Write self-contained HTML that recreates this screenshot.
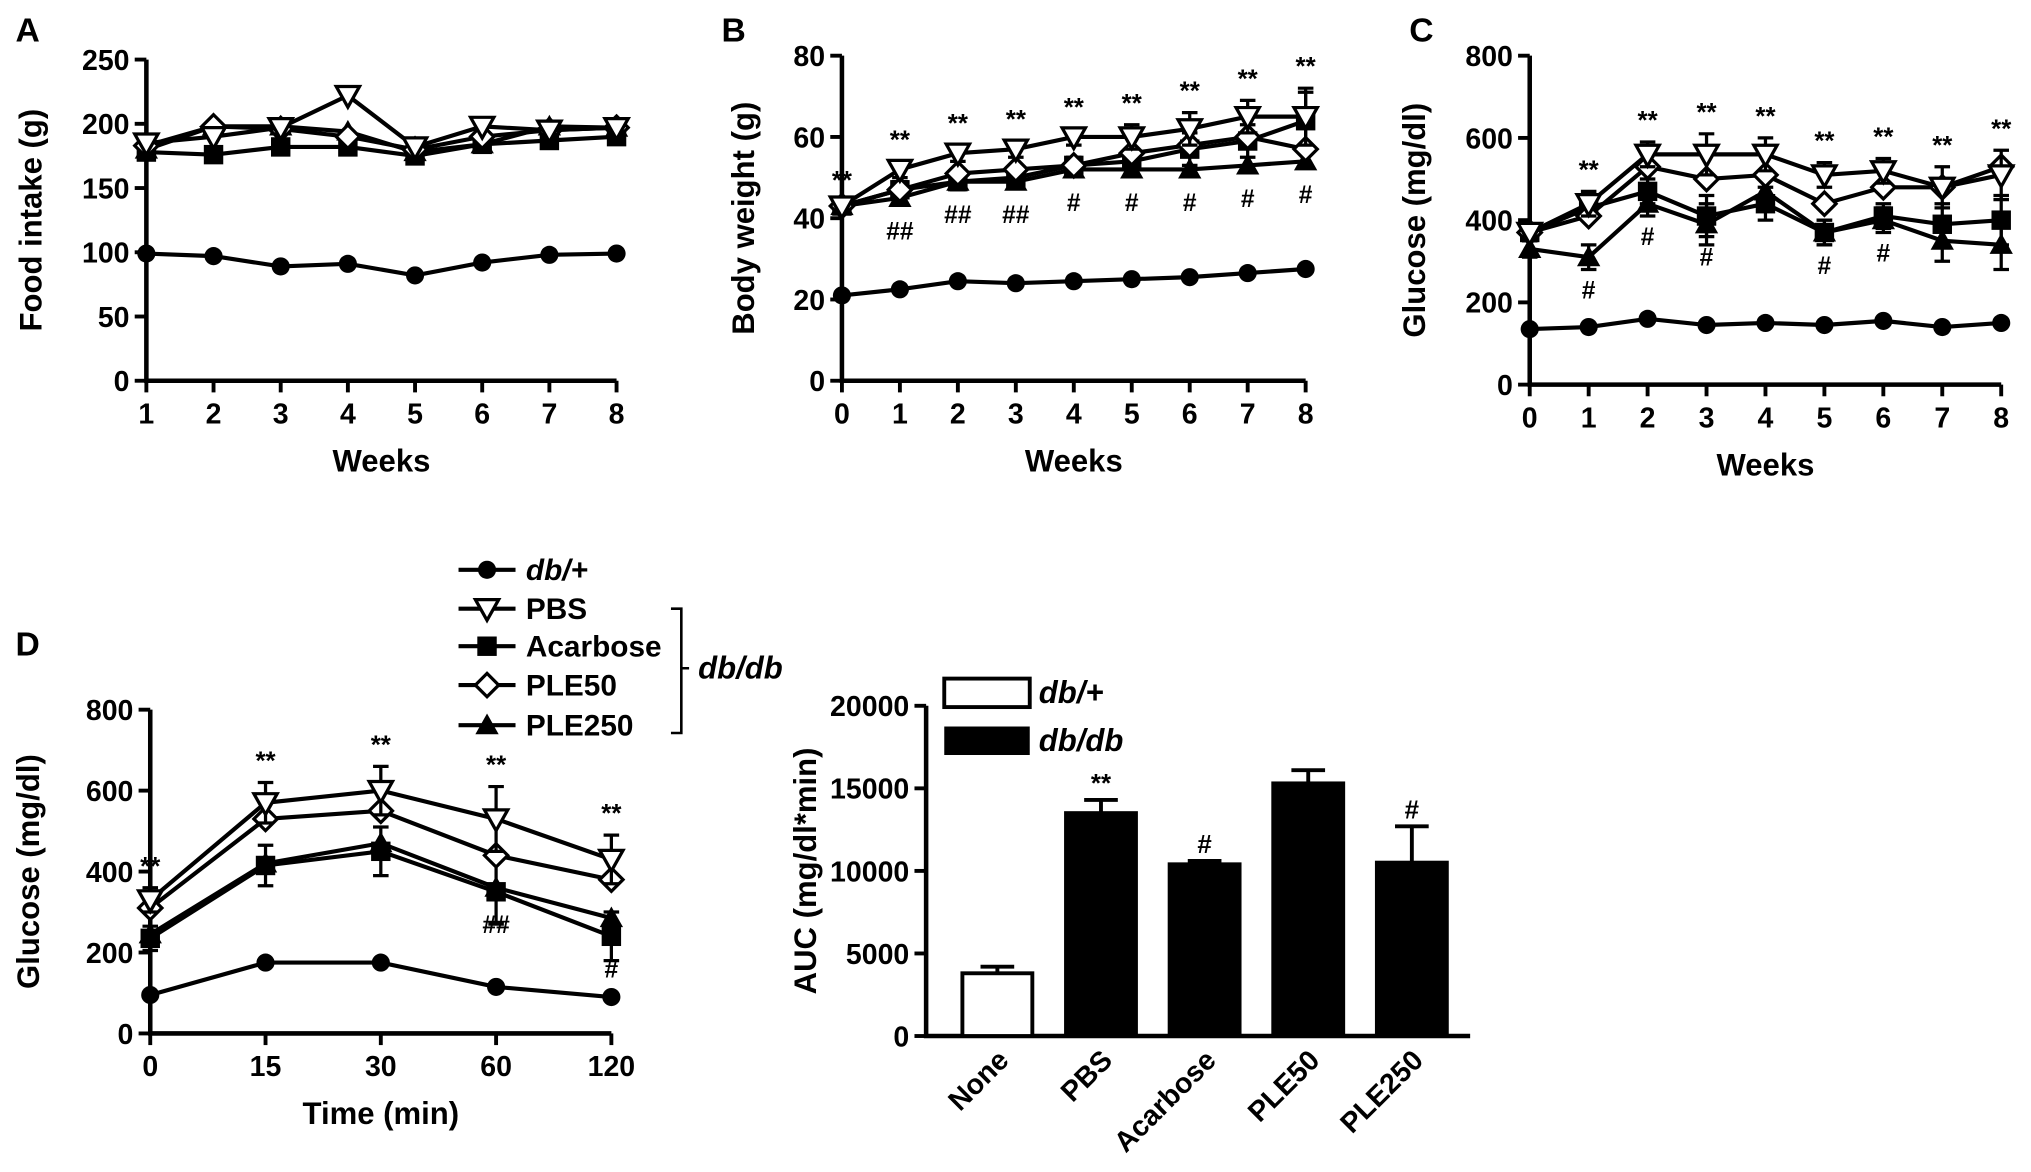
<!DOCTYPE html>
<html><head><meta charset="utf-8"><style>
html,body{margin:0;padding:0;background:#fff;}
svg{display:block;font-family:"Liberation Sans",Arial,sans-serif;font-weight:bold;}
</style></head><body>
<svg id="fig" width="2031" height="1172" viewBox="0 0 1568 905" preserveAspectRatio="none" xmlns="http://www.w3.org/2000/svg">
<g font-weight="bold" font-size="26">
<text x="12" y="32">A</text>
<text x="557" y="32">B</text>
<text x="1088" y="32">C</text>
<text x="12" y="506">D</text>
</g>
<g id="legend" font-size="22"></g>
</svg>
<script>
// ---- Panel A data (Food intake) ----
const weeksA = ["1","2","3","4","5","6","7","8"];
const aDb = [99,97,89,91,82,92,98,99];
const aPBS = [185,190,197,222,182,198,195,197];
const aAca = [178,176,182,182,175,184,187,190];
const aP50 = [183,198,196,190,180,190,195,197];
const aP250 = [180,198,198,194,178,184,198,197];
const ticksA = [0,50,100,150,200,250];
// ---- Panel B data (Body weight) ----
const weeksB = ["0","1","2","3","4","5","6","7","8"];
const bDb = [21,22.5,24.5,24,24.5,25,25.5,26.5,27.5];
const bPBS = [43,52,56,57,60,60,62,65,65];
const bAca = [43,47,49,50,53,54,57,59,64];
const bP50 = [43,47,51,52,53,56,58,60,57];
const bP250 = [43,45,49,49,52,52,52,53,54];
const bErr = [1,2,2,2,2,3,4,4,7];
const ticksB = [0,20,40,60,80];
const starsB = ["**","**","**","**","**","**","**","**","**"];
const hashB = ["","##","##","##","#","#","#","#","#"];
// ---- Panel C data (Glucose) ----
const cDb = [135,140,160,145,150,145,155,140,150];
const cPBS = [370,440,560,560,560,510,520,480,510];
const cAca = [370,430,470,410,440,370,410,390,400];
const cP50 = [370,410,530,500,510,440,480,480,530];
const cP250 = [330,310,440,390,470,370,400,350,340];
const cErr = [20,30,30,50,40,30,30,50,60];
const ticksC = [0,200,400,600,800];
const starsC = ["","**","**","**","**","**","**","**","**"];
const hashC = ["","#","#","#","","#","#","",""];
// ---- Panel D data (OGTT) ----
const timesD = ["0","15","30","60","120"];
const dDb = [95,175,175,115,90];
const dPBS = [330,570,600,530,430];
const dAca = [235,415,450,350,240];
const dP50 = [310,530,550,440,380];
const dP250 = [245,420,470,360,285];
const dErr = [30,50,60,80,60];
const ticksD = [0,200,400,600,800];
const starsD = ["**","**","**","**","**"];
const hashD = ["","","","##","#"];
// ---- AUC bar data ----
const aucCats = ["None","PBS","Acarbose","PLE50","PLE250"];
const aucVals = [3800,13500,10400,15300,10500];
const aucErr = [400,800,200,800,2200];
const aucTicks = [0,5000,10000,15000,20000];
const aucSig = ["","**","#","","#"];

const NS="http://www.w3.org/2000/svg";
const svg=document.getElementById('fig');
function mk(tag,attrs,parent){const e=document.createElementNS(NS,tag);for(const k in attrs)e.setAttribute(k,attrs[k]);(parent||svg).appendChild(e);return e;}
function marker(g,type,x,y){
  let e;
  if(type==='circle'){e=mk('circle',{cx:x,cy:y,r:7,fill:'#000'},g);}
  else if(type==='square'){e=mk('rect',{x:x-7.5,y:y-7.5,width:15,height:15,fill:'#000'},g);}
  else if(type==='tdown'){e=mk('polygon',{points:`${x-9},${y-7} ${x+9},${y-7} ${x},${y+9}`,fill:'#fff',stroke:'#000','stroke-width':2.5},g);}
  else if(type==='diamond'){e=mk('polygon',{points:`${x},${y-9} ${x+9},${y} ${x},${y+9} ${x-9},${y}`,fill:'#fff',stroke:'#000','stroke-width':2.5},g);}
  else {e=mk('polygon',{points:`${x-9},${y+7} ${x+9},${y+7} ${x},${y-9}`,fill:'#000'},g);}
  
  
}
function panel(cfg){
  const g=mk('g',{});
  
  
  const n=cfg.xl.length;
  const X=i=>cfg.x0+(cfg.x1-cfg.x0)*i/(n-1);
  const Y=v=>cfg.y0-(cfg.y0-cfg.ytop)*v/cfg.ymax;
  const ax=mk('path',{d:`M${cfg.x0},${cfg.ytop} V${cfg.y0} H${cfg.x1}`,fill:'none',stroke:'#000','stroke-width':3.5},g);
  
  
  cfg.yt.forEach(v=>{
    mk('line',{x1:cfg.x0-9,x2:cfg.x0,y1:Y(v),y2:Y(v),stroke:'#000','stroke-width':3},g);
    const t=mk('text',{x:cfg.x0-13,y:Y(v)+8,'text-anchor':'end','font-size':22},g);t.textContent=v;
    
    
  });
  cfg.xl.forEach((l,i)=>{
    mk('line',{x1:X(i),x2:X(i),y1:cfg.y0,y2:cfg.y0+9,stroke:'#000','stroke-width':3},g);
    const t=mk('text',{x:X(i),y:cfg.y0+33,'text-anchor':'middle','font-size':22},g);t.textContent=l;
    
    
  });
  const xt=mk('text',{x:(cfg.x0+cfg.x1)/2,y:cfg.y0+70,'text-anchor':'middle','font-size':24},g);xt.textContent=cfg.xtitle;
  
  
  const cy=(cfg.y0+cfg.ytop)/2;
  const yt=mk('text',{x:cfg.ytx,y:cy,'text-anchor':'middle','font-size':24,transform:`rotate(-90 ${cfg.ytx} ${cy})`},g);yt.textContent=cfg.ytitle;
  
  
  cfg.series.forEach(s=>{
    const sg=mk('g',{},g);
    
    
    if(s.err){s.vals.forEach((v,i)=>{const e=s.err[i]*(cfg.y0-cfg.ytop)/cfg.ymax;
      mk('path',{d:`M${X(i)},${Y(v)-e} V${Y(v)+e} M${X(i)-6},${Y(v)-e} H${X(i)+6} M${X(i)-6},${Y(v)+e} H${X(i)+6}`,stroke:'#000','stroke-width':2.5,fill:'none'},sg);});}
    mk('polyline',{points:s.vals.map((v,i)=>X(i)+','+Y(v)).join(' '),fill:'none',stroke:'#000','stroke-width':3.2},sg);
    s.vals.forEach((v,i)=>marker(sg,s.m,X(i),Y(v)));
  });
  if(cfg.stars){cfg.stars.forEach((s,i)=>{if(!s)return;const t=mk('text',{x:X(i),y:Y(cfg.starRef[i]+ (cfg.starErr?cfg.starErr[i]:0))-10,'text-anchor':'middle','font-size':20},g);t.textContent=s;
    
    });}
  if(cfg.hash){cfg.hash.forEach((s,i)=>{if(!s)return;const t=mk('text',{x:X(i),y:Y(cfg.hashRef[i])+32,'text-anchor':'middle','font-size':19},g);t.textContent=s;
    
    });}
}
panel({name:'panel-a-food-intake',x0:113,x1:476,y0:294,ytop:46,ymax:250,yt:ticksA,xl:weeksA,xtitle:'Weeks',ytitle:'Food intake (g)',ytx:32,
  series:[{name:'db-plus',vals:aDb,m:'circle'},{name:'acarbose',vals:aAca,m:'square'},{name:'ple250',vals:aP250,m:'tri'},{name:'ple50',vals:aP50,m:'diamond'},{name:'pbs',vals:aPBS,m:'tdown'}]});
panel({name:'panel-b-body-weight',x0:650,x1:1008,y0:294,ytop:43,ymax:80,yt:ticksB,xl:weeksB,xtitle:'Weeks',ytitle:'Body weight (g)',ytx:582,
  series:[{name:'db-plus',vals:bDb,m:'circle'},{name:'acarbose',vals:bAca,m:'square',err:bErr},{name:'ple250',vals:bP250,m:'tri'},{name:'ple50',vals:bP50,m:'diamond'},{name:'pbs',vals:bPBS,m:'tdown',err:bErr}],
  stars:starsB,starRef:bPBS,starErr:bErr,hash:hashB,hashRef:bP250});
panel({name:'panel-c-glucose',x0:1181,x1:1545,y0:297,ytop:43,ymax:800,yt:ticksC,xl:weeksB,xtitle:'Weeks',ytitle:'Glucose (mg/dl)',ytx:1100,
  series:[{name:'db-plus',vals:cDb,m:'circle'},{name:'acarbose',vals:cAca,m:'square',err:cErr},{name:'ple250',vals:cP250,m:'tri',err:cErr},{name:'ple50',vals:cP50,m:'diamond'},{name:'pbs',vals:cPBS,m:'tdown',err:cErr}],
  stars:starsC,starRef:cPBS,starErr:cErr,hash:hashC,hashRef:cP250});
panel({name:'panel-d-ogtt',x0:116,x1:472,y0:798,ytop:548,ymax:800,yt:ticksD,xl:timesD,xtitle:'Time (min)',ytitle:'Glucose (mg/dl)',ytx:30,
  series:[{name:'db-plus',vals:dDb,m:'circle'},{name:'acarbose',vals:dAca,m:'square',err:dErr},{name:'ple250',vals:dP250,m:'tri'},{name:'ple50',vals:dP50,m:'diamond'},{name:'pbs',vals:dPBS,m:'tdown',err:dErr}],
  stars:starsD,starRef:dPBS,starErr:dErr,hash:hashD,hashRef:dAca});

// ---- Bar chart ----
(function(){
  const g=mk('g',{});
  
  
  const x0=715,y0=800,ytop=545,ymax=20000,bw=54,first=770,step=80;
  const Y=v=>y0-(y0-ytop)*v/ymax;
  const ax=mk('path',{d:`M${x0},${ytop} V${y0} H${first+step*(aucCats.length-1)+45}`,fill:'none',stroke:'#000','stroke-width':3.5},g);
  
  
  aucTicks.forEach(v=>{mk('line',{x1:x0-9,x2:x0,y1:Y(v),y2:Y(v),stroke:'#000','stroke-width':3},g);
    const t=mk('text',{x:x0-13,y:Y(v)+8,'text-anchor':'end','font-size':22},g);t.textContent=v;
    
    });
  const cy=(y0+ytop)/2;
  const yt=mk('text',{x:630,y:cy,'text-anchor':'middle','font-size':24,transform:`rotate(-90 630 ${cy})`},g);yt.textContent='AUC (mg/dl*min)';
  
  
  aucCats.forEach((c,i)=>{
    const cx=first+step*i,v=aucVals[i],e=(y0-ytop)*aucErr[i]/ymax;
    mk('path',{d:`M${cx},${Y(v)-e} V${Y(v)} M${cx-13},${Y(v)-e} H${cx+13}`,stroke:'#000','stroke-width':3},g);
    const b=mk('rect',{x:cx-bw/2,y:Y(v),width:bw,height:y0-Y(v),fill:i===0?'#fff':'#000',stroke:'#000','stroke-width':3},g);
    
    
    const t=mk('text',{x:cx+10,y:y0+20,'text-anchor':'end','font-size':22,transform:`rotate(-45 ${cx+10} ${y0+20})`},g);t.textContent=c;
    
    
    if(aucSig[i]){const s=mk('text',{x:cx,y:Y(v)-e-6,'text-anchor':'middle','font-size':20},g);s.textContent=aucSig[i];
      
      }
  });
  const l1=mk('rect',{x:729,y:524,width:66,height:22,fill:'#fff',stroke:'#000','stroke-width':3},g);
  
  
  const l2=mk('rect',{x:729,y:561,width:66,height:22,fill:'#000'},g);
  
  
  const t1=mk('text',{x:802,y:543,'font-size':24,'font-style':'italic','font-weight':'bold'},g);t1.textContent='db/+';
  
  
  const t2=mk('text',{x:802,y:580,'font-size':24,'font-style':'italic','font-weight':'bold'},g);t2.textContent='db/db';
  
  
})();

// ---- Line legend ----
(function(){
  const lg=document.getElementById('legend');
  const names=['db/+','PBS','Acarbose','PLE50','PLE250'];
  const marks=['circle','tdown','square','diamond','tri'];
  const ys=[440,470,499,529,560];
  names.forEach((nm,i)=>{
    const row=mk('g',{},lg);
    
    
    mk('line',{x1:354,x2:398,y1:ys[i],y2:ys[i],stroke:'#000','stroke-width':3.2},row);
    marker(row,marks[i],376,ys[i]);
    const t=mk('text',{x:406,y:ys[i]+8,'font-size':23},row);
    if(i===0){t.setAttribute('font-style','italic');}
    t.textContent=nm;
  });
  const br=mk('path',{d:'M518,470 H526 V566 H518 M526,516 H532',fill:'none',stroke:'#000','stroke-width':2},lg);
  
  
  const t=mk('text',{x:539,y:524,'font-size':24,'font-style':'italic','font-weight':'bold'},lg);t.textContent='db/db';
  
  
})();
</script>
</body></html>
